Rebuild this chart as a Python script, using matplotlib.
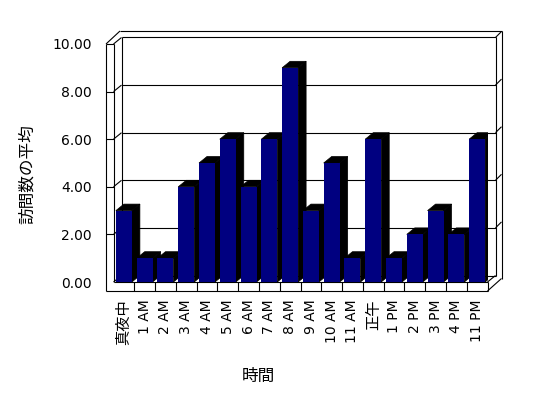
import matplotlib
matplotlib.use("Agg")
import matplotlib.pyplot as plt
from matplotlib.patches import Polygon

plt.rcParams['font.family'] = ['DejaVu Sans', 'Noto Sans CJK JP']

# data
hours = ['真夜中', '1 AM', '2 AM', '3 AM', '4 AM', '5 AM', '6 AM', '7 AM', '8 AM',
         '9 AM', '10 AM', '11 AM', '正午', '1 PM', '2 PM', '3 PM', '4 PM', '11 PM']
visits = [3, 1, 1, 4, 5, 6, 4, 6, 9, 3, 5, 1, 6, 1, 2, 3, 2, 6]
y_ticks = [0, 2, 4, 6, 8, 10]
y_ticklabels = ['%.2f' % v for v in y_ticks]

W, H = 548, 398
fig = plt.figure(figsize=(W / 100, H / 100), dpi=100)
fig.patch.set_facecolor('white')

# front plane of the 3d box, in pixels
x0, x1, y_top, y_bot = 113.5, 487.5, 44, 282
ax = fig.add_axes([x0 / W, 1 - y_bot / H, (x1 - x0) / W, (y_bot - y_top) / H])
n = len(hours)
ax.set_xlim(-0.5, n - 0.5)
ax.set_ylim(0, 10)
for s in ax.spines.values():
    s.set_visible(False)

# pixel -> data unit helpers
px_x = (n) / (x1 - x0)
px_y = 10 / (y_bot - y_top)
DX, DY = 8 * px_x, 6.5 * px_y          # depth of the box
WALL = 7.5 * px_x                      # left wall thickness
FLOOR = 9 * px_y                       # floor thickness
lw = 0.8
L = -0.5
R = n - 0.5


def line(xs, ys, z=1):
    ax.plot(xs, ys, color='black', lw=lw, clip_on=False, zorder=z,
            solid_capstyle='butt')


# back wall + gridlines
for k in y_ticks:
    line([L + DX, R + DX], [k + DY, k + DY])
    line([L, L + DX], [k, k + DY])
    if k > 0:
        line([L - WALL, L], [k, k])
        line([R + DX, R + DX + 6 * px_x], [k + DY, k + DY + 6 * px_y])
line([L + DX, L + DX], [DY, 10 + DY])
line([R + DX, R + DX], [DY, 10 + DY])
# back wall thickness / top edges
top_out = 10 + DY + 6.5 * px_y
line([R + DX + 6 * px_x, R + DX + 6 * px_x], [-FLOOR + 12.5 * px_y, top_out])
line([L - WALL + 14 * px_x, R + DX + 6 * px_x], [top_out, top_out])
line([L - WALL, L - WALL + 14 * px_x], [10, top_out])

# left wall
line([L - WALL, L - WALL], [-FLOOR, 10])
line([L, L], [0, 10])

# floor
line([L - WALL, R], [-FLOOR, -FLOOR])
line([L, R], [0, 0])
line([R, R], [-FLOOR, 0])
line([R, R + 14 * px_x], [-FLOOR, -FLOOR + 12.5 * px_y])
line([R, R + DX], [0, DY])
for k in range(1, n):
    line([L + k, L + k], [-FLOOR, 0])

# bars, left to right so the next front hides the previous side
bw = 0.77
bars = ax.bar(range(n), visits, width=bw, color='#000080', edgecolor='none')
for i, (b, v) in enumerate(zip(bars, visits)):
    z = 3 + i * 0.01
    b.set_zorder(z + 0.005)
    xl, xr = i - bw / 2, i + bw / 2
    side = Polygon([(xr, 0), (xr, v), (xr + DX, v + DY), (xr + DX, DY)],
                   closed=True, facecolor='black', edgecolor='black', lw=0.5, zorder=z)
    top = Polygon([(xl, v), (xr, v), (xr + DX, v + DY), (xl + DX, v + DY)],
                  closed=True, facecolor='black', edgecolor='black', lw=0.5, zorder=z)
    ax.add_patch(side)
    ax.add_patch(top)

# ticks
ax.set_yticks(y_ticks)
ax.set_yticklabels(y_ticklabels, fontsize=10)
ax.set_xticks(range(n))
ax.set_xticklabels(hours, rotation=90, fontsize=10)
for t in ax.get_xticklabels():
    if not t.get_text()[0].isdigit():
        t.set_fontsize(11)
ax.tick_params(axis='y', length=0, pad=15.5)
ax.tick_params(axis='x', length=0, pad=12.5)

fig.text(27 / W, 1 - 174 / H, '訪問数の平均', rotation=90, fontsize=12,
         family=['Noto Sans CJK JP'], ha='center', va='center')
fig.text(258 / W, 1 - 376 / H, '時間', fontsize=12,
         family=['Noto Sans CJK JP'], ha='center', va='center')

fig.savefig('out.png', dpi=100, facecolor='white')
